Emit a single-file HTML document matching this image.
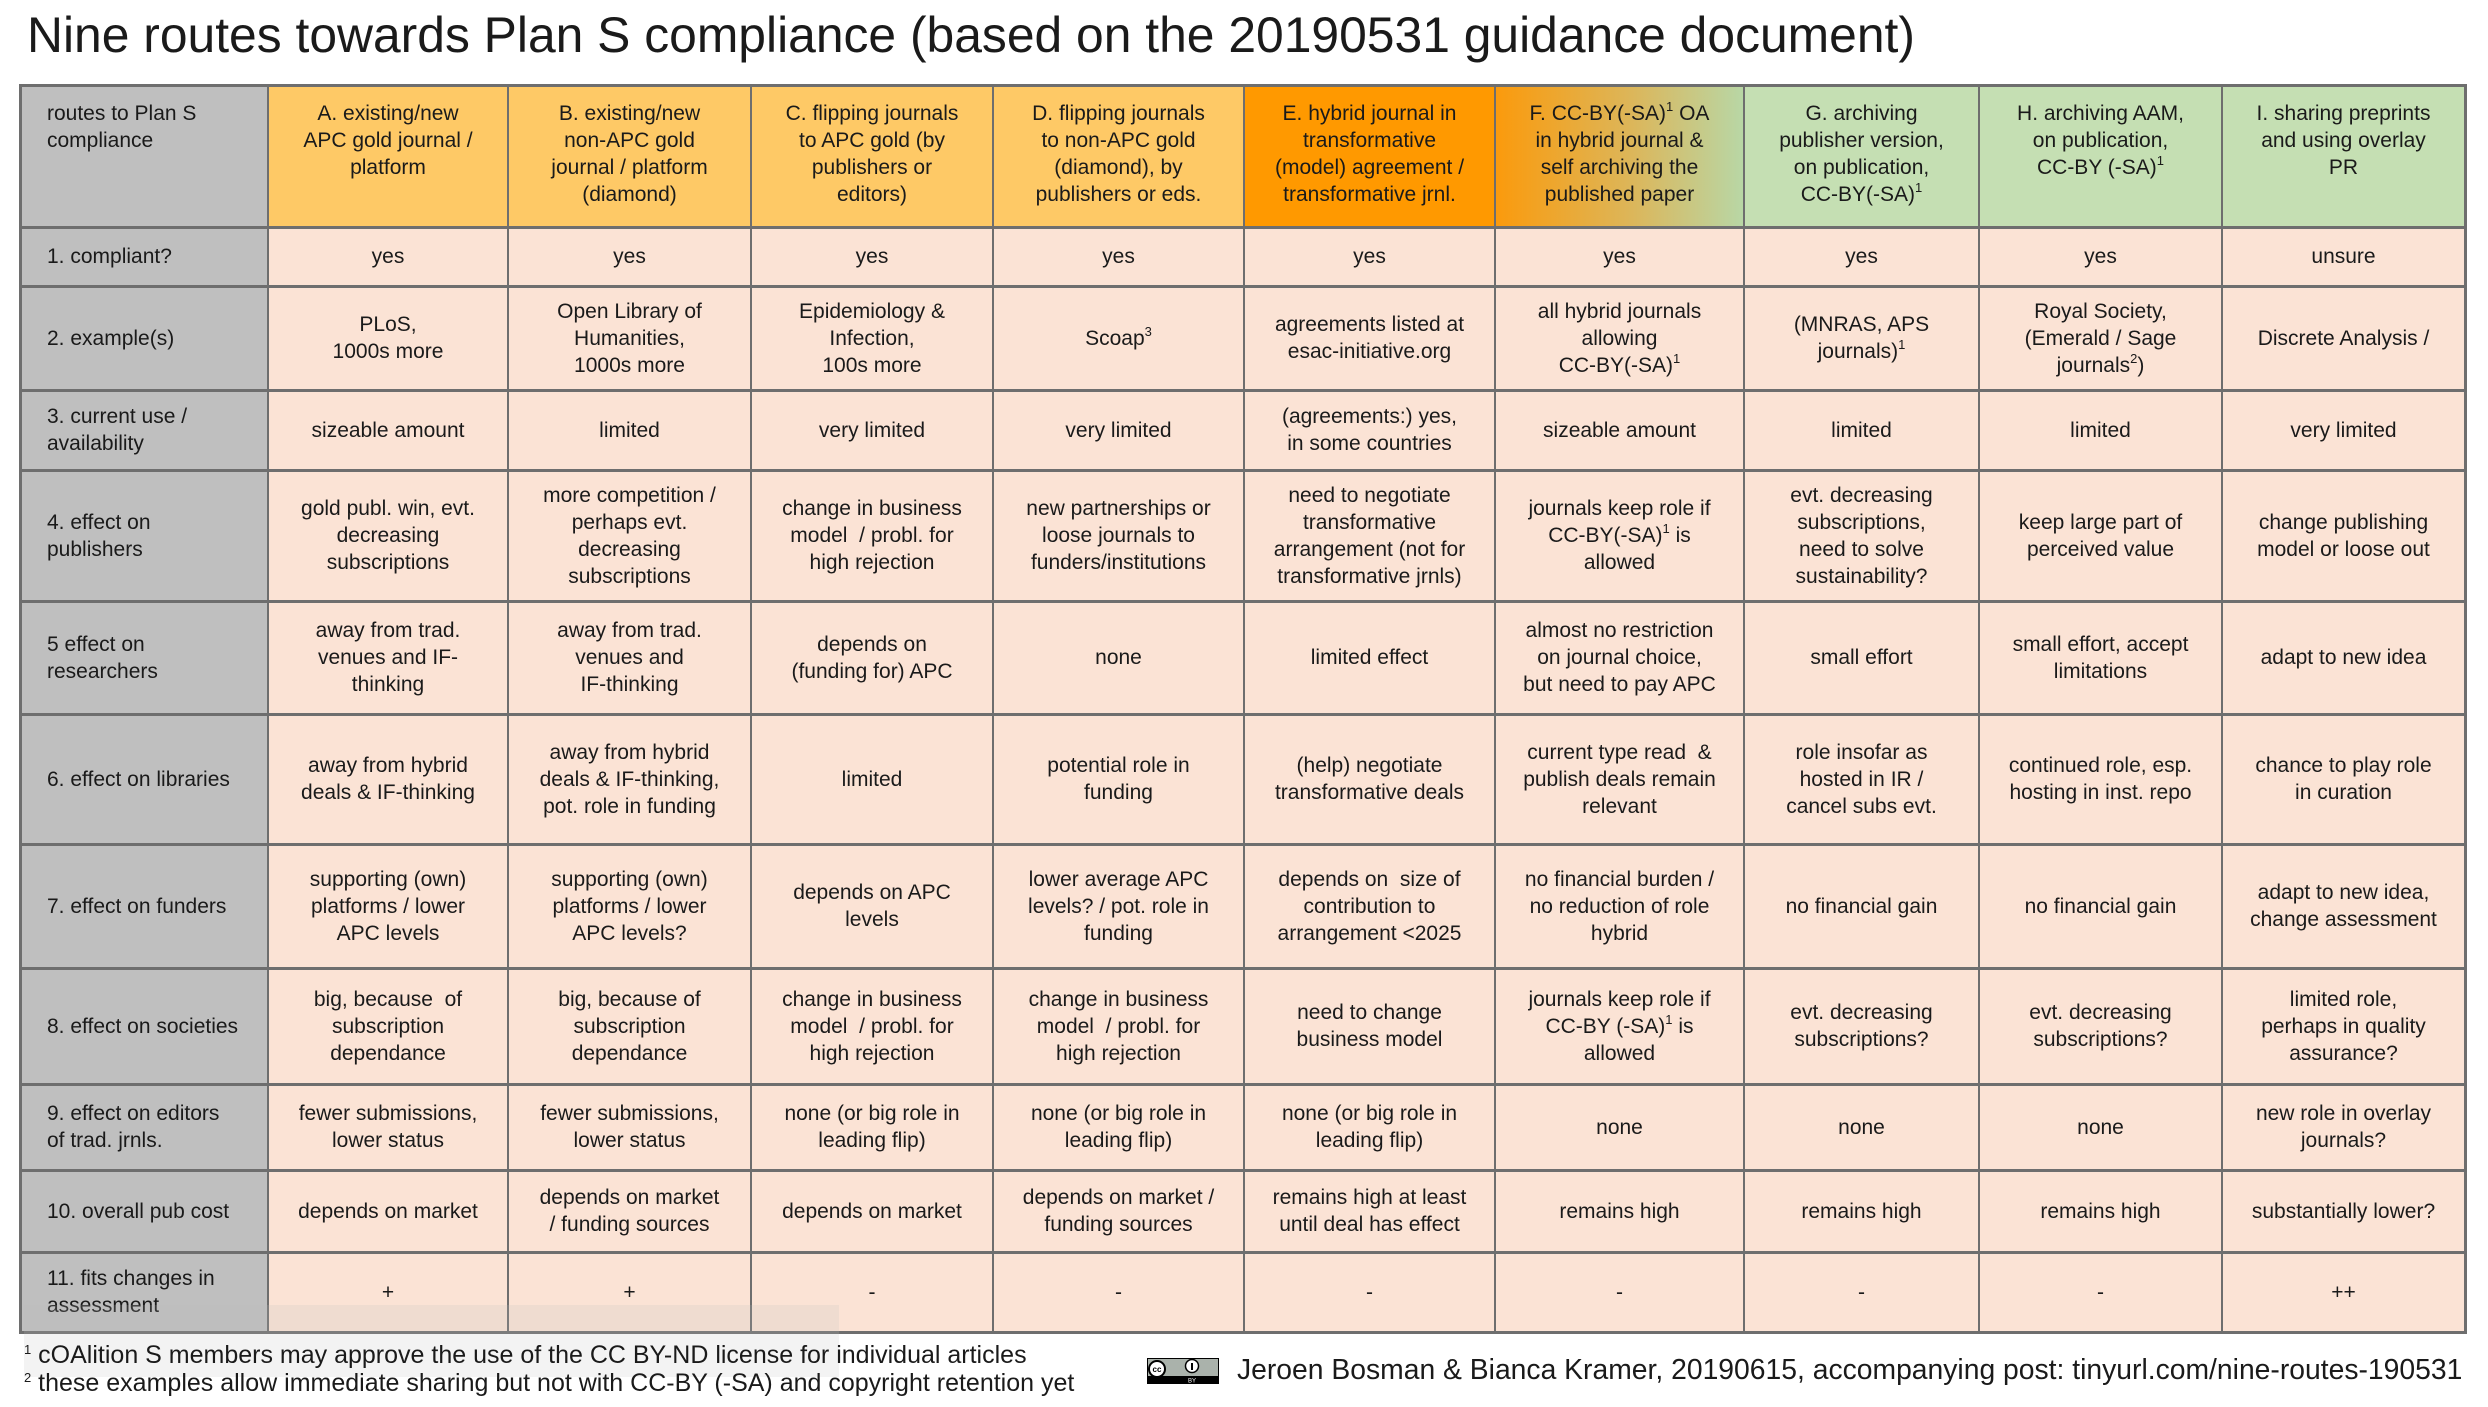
<!DOCTYPE html>
<html><head><meta charset="utf-8">
<style>
html,body{margin:0;padding:0;background:#fff;}
#p{position:relative;width:2488px;height:1407px;overflow:hidden;font-family:"Liberation Sans",Arial,sans-serif;color:#1a1a1a;}
.c{position:absolute;box-sizing:border-box;display:flex;align-items:center;justify-content:center;text-align:center;font-size:21px;line-height:27px;padding:0 6px;}
.l{justify-content:flex-start;text-align:left;padding-left:27px;}
.h{align-items:flex-start;padding-top:15px;}
.ln{position:absolute;background:#6e6e6e;}
sup{font-size:13px;line-height:0;vertical-align:9px;}
.t{position:absolute;white-space:nowrap;}
</style></head><body><div id="p">
<div class="t" style="left:27px;top:7px;font-size:49.8px;line-height:56px;">Nine routes towards Plan S compliance (based on the 20190531 guidance document)</div>
<div id="tb"></div>
<div style="position:absolute;left:24px;top:1305px;width:815px;height:72px;background:rgba(190,190,190,0.18);"></div>
<div class="t" style="left:24px;top:1341px;font-size:25px;line-height:28px;"><sup>1</sup> cOAlition S members may approve the use of the CC BY-ND license for individual articles</div>
<div class="t" style="left:24px;top:1369px;font-size:25px;line-height:28px;"><sup>2</sup> these examples allow immediate sharing but not with CC-BY (-SA) and copyright retention yet</div>
<svg style="position:absolute;left:1147px;top:1358px" width="72" height="26" viewBox="0 0 72 26">
<rect x="0.5" y="0.5" width="71" height="25" fill="#aab2ab" stroke="#000"/>
<rect x="0" y="18" width="72" height="8" fill="#000"/>
<circle cx="10" cy="11" r="8" fill="#fff" stroke="#000" stroke-width="2"/>
<text x="10" y="14" font-size="8" text-anchor="middle" font-family="Liberation Sans" font-weight="bold">cc</text>
<circle cx="45" cy="8" r="6.5" fill="#fff" stroke="#000" stroke-width="1.5"/>
<rect x="44" y="5" width="2" height="7" fill="#000"/>
<text x="45" y="24.5" font-size="6" fill="#fff" text-anchor="middle" font-family="Liberation Sans">BY</text>
</svg>
<div class="t" style="left:1237px;top:1352px;font-size:28.3px;line-height:34px;">Jeroen Bosman &amp; Bianca Kramer, 20190615, accompanying post: tinyurl.com/nine-routes-190531</div>
</div>
<script>
var X=[20,268,508,751,993,1244,1495,1744,1979,2222,2465];
var Y=[85,227,286,390,470,601,714,844,968,1084,1170,1252,1332];
var s1='<sup>1</sup>';
var rows=[
["routes to Plan S<br>compliance","A. existing/new<br>APC gold journal /<br>platform","B. existing/new<br>non-APC gold<br>journal / platform<br>(diamond)","C. flipping journals<br>to APC gold (by<br>publishers or<br>editors)","D. flipping journals<br>to non-APC gold<br>(diamond), by<br>publishers or eds.","E. hybrid journal in<br>transformative<br>(model) agreement /<br>transformative jrnl.","F. CC-BY(-SA)"+s1+" OA<br>in hybrid journal &amp;<br>self archiving the<br>published paper","G. archiving<br>publisher version,<br>on publication,<br>CC-BY(-SA)"+s1,"H. archiving AAM,<br>on publication,<br>CC-BY (-SA)"+s1,"I. sharing preprints<br>and using overlay<br>PR"],
["1. compliant?","yes","yes","yes","yes","yes","yes","yes","yes","unsure"],
["2. example(s)","PLoS,<br>1000s more","Open Library of<br>Humanities,<br>1000s more","Epidemiology &amp;<br>Infection,<br>100s more","Scoap<sup>3</sup>","agreements listed at<br>esac-initiative.org","all hybrid journals<br>allowing<br>CC-BY(-SA)"+s1,"(MNRAS, APS<br>journals)"+s1,"Royal Society,<br>(Emerald / Sage<br>journals<sup>2</sup>)","Discrete Analysis /"],
["3. current use /<br>availability","sizeable amount","limited","very limited","very limited","(agreements:) yes,<br>in some countries","sizeable amount","limited","limited","very limited"],
["4. effect on<br>publishers","gold publ. win, evt.<br>decreasing<br>subscriptions","more competition /<br>perhaps evt.<br>decreasing<br>subscriptions","change in business<br>model&nbsp; / probl. for<br>high rejection","new partnerships or<br>loose journals to<br>funders/institutions","need to negotiate<br>transformative<br>arrangement (not for<br>transformative jrnls)","journals keep role if<br>CC-BY(-SA)"+s1+" is<br>allowed","evt. decreasing<br>subscriptions,<br>need to solve<br>sustainability?","keep large part of<br>perceived value","change publishing<br>model or loose out"],
["5 effect on<br>researchers","away from trad.<br>venues and IF-<br>thinking","away from trad.<br>venues and<br>IF-thinking","depends on<br>(funding for) APC","none","limited effect","almost no restriction<br>on journal choice,<br>but need to pay APC","small effort","small effort, accept<br>limitations","adapt to new idea"],
["6. effect on libraries","away from hybrid<br>deals &amp; IF-thinking","away from hybrid<br>deals &amp; IF-thinking,<br>pot. role in funding","limited","potential role in<br>funding","(help) negotiate<br>transformative deals","current type read&nbsp; &amp;<br>publish deals remain<br>relevant","role insofar as<br>hosted in IR /<br>cancel subs evt.","continued role, esp.<br>hosting in inst. repo","chance to play role<br>in curation"],
["7. effect on funders","supporting (own)<br>platforms / lower<br>APC levels","supporting (own)<br>platforms / lower<br>APC levels?","depends on APC<br>levels","lower average APC<br>levels? / pot. role in<br>funding","depends on&nbsp; size of<br>contribution to<br>arrangement &lt;2025","no financial burden /<br>no reduction of role<br>hybrid","no financial gain","no financial gain","adapt to new idea,<br>change assessment"],
["8. effect on societies","big, because&nbsp; of<br>subscription<br>dependance","big, because of<br>subscription<br>dependance","change in business<br>model&nbsp; / probl. for<br>high rejection","change in business<br>model&nbsp; / probl. for<br>high rejection","need to change<br>business model","journals keep role if<br>CC-BY (-SA)"+s1+" is<br>allowed","evt. decreasing<br>subscriptions?","evt. decreasing<br>subscriptions?","limited role,<br>perhaps in quality<br>assurance?"],
["9. effect on editors<br>of trad. jrnls.","fewer submissions,<br>lower status","fewer submissions,<br>lower status","none (or big role in<br>leading flip)","none (or big role in<br>leading flip)","none (or big role in<br>leading flip)","none","none","none","new role in overlay<br>journals?"],
["10. overall pub cost","depends on market","depends on market<br>/ funding sources","depends on market","depends on market /<br>funding sources","remains high at least<br>until deal has effect","remains high","remains high","remains high","substantially lower?"],
["11. fits changes in<br>assessment","+","+","-","-","-","-","-","-","++"]
];
var hc=["#bfbfbf","#fec966","#fec966","#fec966","#fec966","#ff9900","linear-gradient(to right,#fb9a0c,#dcb65a 55%,#b8d7a6)","#c5dfb3","#c5dfb3","#c5dfb3"];
var h='';
for(var r=0;r<rows.length;r++){for(var c=0;c<10;c++){
var bg=r==0?hc[c]:(c==0?'#bfbfbf':'#fbe3d5');
var cls='c'+(c==0?' l':'')+(r==0?' h':'');
h+='<div class="'+cls+'" style="left:'+X[c]+'px;top:'+Y[r]+'px;width:'+(X[c+1]-X[c])+'px;height:'+(Y[r+1]-Y[r])+'px;background:'+bg+'"><div>'+rows[r][c]+'</div></div>';}}
for(var i=0;i<X.length;i++){var w=(i==0||i==X.length-1)?3:2;h+='<div class="ln" style="left:'+(X[i]-1)+'px;top:'+(Y[0]-1)+'px;width:'+w+'px;height:'+(Y[Y.length-1]-Y[0]+3)+'px"></div>';}
for(var j=0;j<Y.length;j++){h+='<div class="ln" style="left:'+(X[0]-1)+'px;top:'+(Y[j]-1)+'px;width:'+(X[X.length-1]-X[0]+3)+'px;height:3px"></div>';}
document.getElementById('tb').innerHTML=h;
</script>
</body></html>
